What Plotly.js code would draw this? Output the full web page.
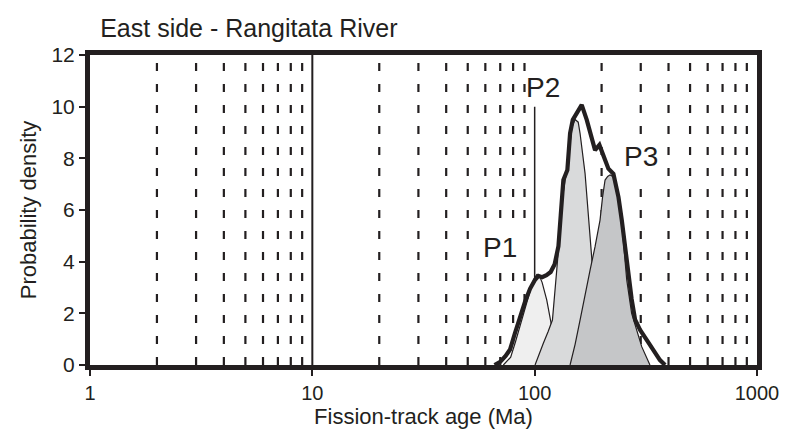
<!DOCTYPE html>
<html>
<head>
<meta charset="utf-8">
<script src="https://cdn.plot.ly/plotly-3.0.1.min.js"></script>
<style>html,body{margin:0;padding:0;background:#fff;}#chart{width:795px;height:435px;}</style>
</head>
<body>
<div id="chart"></div>
<script>
// Summed probability density (thick outline)
const totalAge = [66, 70, 74, 77.5, 81.5, 86, 90.5, 95.3, 100.4, 104, 108, 113, 118, 123, 127.9, 131, 134.6, 140.3, 144.3, 148.4, 154.6, 162.8, 171.5, 180.7, 186.9, 195.5, 205.2, 214.6, 226, 234, 238.2, 246.5, 255, 262, 273, 283, 298, 319, 342, 366, 386];
const totalDen = [0, 0.12, 0.35, 0.6, 1.23, 1.87, 2.45, 2.95, 3.3, 3.45, 3.4, 3.48, 3.6, 3.9, 4.6, 5.8, 7.16, 7.55, 8.97, 9.49, 9.74, 10.07, 9.49, 8.71, 8.32, 8.52, 8.0, 7.6, 7.4, 6.9, 6.5, 5.61, 4.5, 3.6, 2.55, 1.75, 1.36, 0.97, 0.58, 0.19, 0];
// Component peaks
const p1Age = [72.3, 78, 82, 86, 90.5, 95.3, 99, 102.2, 105, 108, 113.3, 119.4, 127, 135];
const p1Den = [0, 0.3, 0.9, 1.55, 2.2, 2.85, 3.3, 3.5, 3.45, 3.2, 2.52, 1.48, 0.6, 0];
const p2Age = [100.4, 105, 109.4, 115, 120.2, 125.7, 130, 134, 138, 142, 146.9, 152, 157, 160, 168.5, 174.5, 180.7, 187, 195];
const p2Den = [0, 0.4, 0.84, 1.3, 1.74, 3.68, 5.4, 6.6, 7.3, 8.0, 9.2, 9.5, 9.4, 8.97, 7.42, 5.8, 4.32, 2.5, 0];
const p3Age = [144.3, 152, 160, 168, 177.6, 186.9, 196.8, 202, 207.3, 213, 218.3, 226, 234, 246.5, 259.5, 273, 287.6, 303, 330];
const p3Den = [0, 0.8, 1.74, 2.7, 3.68, 4.58, 5.61, 6.5, 7.16, 7.3, 7.36, 7.29, 6.78, 5.49, 3.29, 2.0, 1.36, 0.71, 0];

const xTicks = [1, 10, 100, 1000];
const xTickText = ['1', '10', '100', '1000'];
const dashedAges = [2, 3, 4, 5, 6, 7, 8, 9, 20, 30, 40, 50, 60, 70, 80, 90, 200, 300, 400, 500, 600, 700, 800, 900];
const peakLabels = ['P1', 'P2', 'P3'];
const peakLabelAge = [69.9, 108.6, 301];
const peakLabelDen = [4.53, 10.76, 8.09];
const markerLineAge = 100;
const markerLineTop = 10;

const ink = '#231f20';
const font = 'Liberation Sans, Arial, Helvetica, sans-serif';

const traces = [
  {x: p1Age, y: p1Den, type: 'scatter', mode: 'lines', fill: 'tozeroy', fillcolor: '#efefef', line: {color: ink, width: 1.2}, hoverinfo: 'skip'},
  {x: p2Age, y: p2Den, type: 'scatter', mode: 'lines', fill: 'tozeroy', fillcolor: '#d9dadb', line: {color: ink, width: 1.2}, hoverinfo: 'skip'},
  {x: p3Age, y: p3Den, type: 'scatter', mode: 'lines', fill: 'tozeroy', fillcolor: '#c5c6c8', line: {color: ink, width: 1.2}, hoverinfo: 'skip'},
  {x: totalAge, y: totalDen, type: 'scatter', mode: 'lines', line: {color: ink, width: 4.2, shape: 'linear'}, hoverinfo: 'skip'}
];

const shapes = dashedAges.map(a => ({
  type: 'line', layer: 'below', xref: 'x', yref: 'y', x0: a, x1: a, y0: 0, y1: 12,
  line: {color: ink, width: 2.2, dash: '8px,13px'}
}));
shapes.push({type: 'line', layer: 'below', xref: 'x', yref: 'y', x0: 10, x1: 10, y0: 0, y1: 12, line: {color: ink, width: 2}});
shapes.push({type: 'line', layer: 'below', xref: 'x', yref: 'y', x0: markerLineAge, x1: markerLineAge, y0: 0, y1: markerLineTop, line: {color: ink, width: 1.5}});

const pads = [9, 0, 4];
const annotations = peakLabels.map((t, i) => ({
  text: t, x: Math.log10(peakLabelAge[i]), y: peakLabelDen[i], xref: 'x', yref: 'y',
  showarrow: false, font: {family: font, size: 28, color: ink},
  bgcolor: i === 1 ? 'rgba(0,0,0,0)' : '#ffffff', borderpad: pads[i]
}));

const layout = {
  width: 795, height: 435,
  margin: {l: 90, r: 38, t: 55, b: 70},
  paper_bgcolor: '#ffffff', plot_bgcolor: '#ffffff',
  showlegend: false,
  font: {family: font, color: ink, size: 20},
  title: {text: 'East side - Rangitata River', x: 0.126, xanchor: 'left', xref: 'container', y: 0.936, yanchor: 'middle', font: {family: font, size: 25, color: ink}},
  xaxis: {
    type: 'log', range: [0, 3], tickvals: xTicks, ticktext: xTickText,
    ticks: 'outside', ticklen: 6, tickwidth: 2, tickcolor: ink,
    showline: true, linewidth: 5, linecolor: ink, mirror: true,
    showgrid: false, zeroline: false,
    tickfont: {family: font, size: 20, color: ink},
    title: {text: 'Fission-track age (Ma)', font: {family: font, size: 22, color: ink}, standoff: 3}
  },
  yaxis: {
    range: [0, 12], tickvals: [0, 2, 4, 6, 8, 10, 12],
    ticks: 'outside', ticklen: 6, tickwidth: 2, tickcolor: ink,
    showline: true, linewidth: 5, linecolor: ink, mirror: true,
    showgrid: false, zeroline: false,
    tickfont: {family: font, size: 21, color: ink},
    title: {text: 'Probability density', font: {family: font, size: 22, color: ink}, standoff: 10}
  },
  shapes: shapes,
  annotations: annotations
};

Plotly.newPlot('chart', traces, layout, {displayModeBar: false, staticPlot: true});
</script>
</body>
</html>
